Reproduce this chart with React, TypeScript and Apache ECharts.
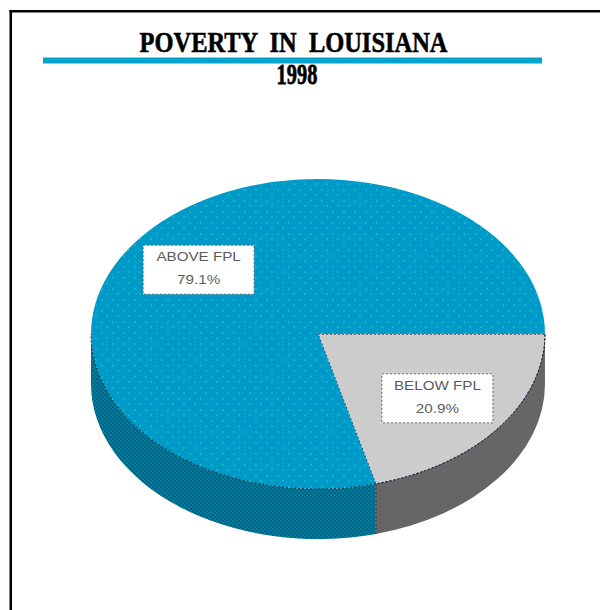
import React, { useEffect, useRef } from "react";
import * as echarts from "echarts";

const categories = ["BELOW FPL", "ABOVE FPL"];
const shares = [20.9, 79.1];
const chartTitle = "POVERTY  IN  LOUISIANA";
const chartYear = "1998";

const topFills = ["#cccccc", "#0099c8"];
const wallFills = ["#666666", "#00668f"];

const CX = 318;
const CY = 334;
const RX = 227;
const RY = 155;
const DEPTH = 50;
const LABEL_RATIO_X = 0.664;
const LABEL_RATIO_Y = 0.68;
const BOX_W = 111;
const BOX_H = 49;

// Small repeating tiles for the stippled top face and the hatched wall.
function dotTile(): HTMLCanvasElement {
  const c = document.createElement("canvas");
  c.width = 11;
  c.height = 11;
  const g = c.getContext("2d")!;
  g.fillStyle = "#0099c8";
  g.fillRect(0, 0, 11, 11);
  g.fillStyle = "#00bcc4";
  g.fillRect(2, 2, 2, 2);
  g.fillRect(7, 7, 2, 2);
  return c;
}

function hatchTile(): HTMLCanvasElement {
  const c = document.createElement("canvas");
  c.width = 4;
  c.height = 4;
  const g = c.getContext("2d")!;
  g.fillStyle = "#00608f";
  g.fillRect(0, 0, 4, 4);
  g.fillStyle = "#008090";
  g.fillRect(0, 0, 2, 2);
  g.fillRect(2, 2, 2, 2);
  return c;
}

const rad = (t: number) => (t * Math.PI) / 180;
const px = (t: number) => CX + RX * Math.cos(rad(t));
const py = (t: number) => CY + RY * Math.sin(rad(t));

function topPath(a: number, b: number): string {
  const large = b - a > 180 ? 1 : 0;
  return `M${CX} ${CY}L${px(a)} ${py(a)}A${RX} ${RY} 0 ${large} 1 ${px(b)} ${py(b)}Z`;
}

function wallPath(a: number, b: number): string {
  const from = Math.min(a, 180);
  const to = Math.min(b, 180);
  if (to <= from) return "";
  return (
    `M${px(from)} ${py(from)}A${RX} ${RY} 0 0 1 ${px(to)} ${py(to)}` +
    `L${px(to)} ${py(to) + DEPTH}A${RX} ${RY} 0 0 0 ${px(from)} ${py(from) + DEPTH}Z`
  );
}

// Rim where the front of the top face meets the wall.
function rimPath(a: number, b: number): string {
  const to = Math.min(b, 180);
  if (to <= a) return "";
  return `M${px(a)} ${py(a)}A${RX} ${RY} 0 0 1 ${px(to)} ${py(to)}`;
}

const total = shares.reduce((s, v) => s + v, 0);

export default function App() {
  const ref = useRef<HTMLDivElement>(null);

  useEffect(() => {
    const chart = echarts.init(ref.current!, null, { renderer: "svg" });
    const dots = dotTile();
    const hatch = hatchTile();

    const renderItem = (params: any, api: any) => {
      const i = params.dataIndex;
      const before = shares.slice(0, i).reduce((s, v) => s + v, 0);
      const a = (before / total) * 360;
      const b = a + (api.value(0) / total) * 360;
      const mid = rad((a + b) / 2);
      const lx = CX + RX * LABEL_RATIO_X * Math.cos(mid);
      const ly = CY + RY * LABEL_RATIO_Y * Math.sin(mid);
      const topFill = i === 1 ? { image: dots, repeat: "repeat" } : topFills[i];
      const wallFill = i === 1 ? { image: hatch, repeat: "repeat" } : wallFills[i];
      const edge = { stroke: "#14213a", lineWidth: 1, lineDash: [2, 2] };
      const children: any[] = [];
      const wall = wallPath(a, b);
      if (wall) {
        children.push({
          type: "path",
          shape: { pathData: wall },
          style: { fill: wallFill },
        });
      }
      children.push({
        type: "path",
        shape: { pathData: topPath(a, b) },
        style: { fill: topFill, ...(i === 0 ? edge : {}) },
      });
      const rim = rimPath(a, b);
      if (rim) {
        children.push({
          type: "path",
          shape: { pathData: rim },
          style: { fill: "none", ...edge },
        });
      }
      if (i === 0) {
        children.push({
          type: "line",
          shape: { x1: px(b), y1: py(b), x2: px(b), y2: py(b) + DEPTH },
          style: edge,
        });
      }
      children.push({
        type: "rect",
        shape: { x: lx - BOX_W / 2, y: ly - BOX_H / 2, width: BOX_W, height: BOX_H },
        style: { fill: "#ffffff", stroke: "#666666", lineWidth: 1, lineDash: [2, 2] },
      });
      children.push({
        type: "text",
        x: lx,
        y: ly - 13,
        scaleX: 1.17,
        style: {
          text: categories[i],
          fill: "#5a5a5a",
          font: "13px 'Liberation Sans'",
          align: "center",
          verticalAlign: "middle",
        },
      });
      children.push({
        type: "text",
        x: lx,
        y: ly + 10,
        scaleX: 1.17,
        style: {
          text: `${api.value(0)}%`,
          fill: "#5a5a5a",
          font: "13px 'Liberation Sans'",
          align: "center",
          verticalAlign: "middle",
        },
      });
      return { type: "group", children };
    };

    chart.setOption({
      animation: false,
      backgroundColor: "#ffffff",
      series: [
        {
          type: "custom",
          coordinateSystem: "none",
          silent: true,
          clip: false,
          data: shares.map((v) => [v]),
          renderItem,
        },
      ],
      graphic: [
        { type: "rect", z: 10, shape: { x: 9.5, y: 10, width: 700, height: 2.5 }, style: { fill: "#000000" } },
        { type: "rect", z: 10, shape: { x: 9.5, y: 10, width: 2.5, height: 700 }, style: { fill: "#000000" } },
        { type: "rect", z: 10, shape: { x: 43, y: 57.5, width: 499, height: 6 }, style: { fill: "#00a3cc" } },
        {
          type: "text",
          z: 10,
          x: 293.5,
          y: 42,
          scaleX: 0.815,
          style: {
            text: chartTitle,
            fill: "#000000",
            stroke: "#000000",
            lineWidth: 0.6,
            font: "bold 30px 'Liberation Serif'",
            align: "center",
            verticalAlign: "middle",
          },
        },
        {
          type: "text",
          z: 10,
          x: 297,
          y: 74,
          scaleX: 0.68,
          style: {
            text: chartYear,
            fill: "#000000",
            stroke: "#000000",
            lineWidth: 0.8,
            font: "bold 30px 'Liberation Serif'",
            align: "center",
            verticalAlign: "middle",
          },
        },
      ],
    });
    return () => chart.dispose();
  }, []);

  return (
    <div
      ref={ref}
      style={{ position: "absolute", left: 0, top: 0, width: 600, height: 610, background: "#fff" }}
    />
  );
}
